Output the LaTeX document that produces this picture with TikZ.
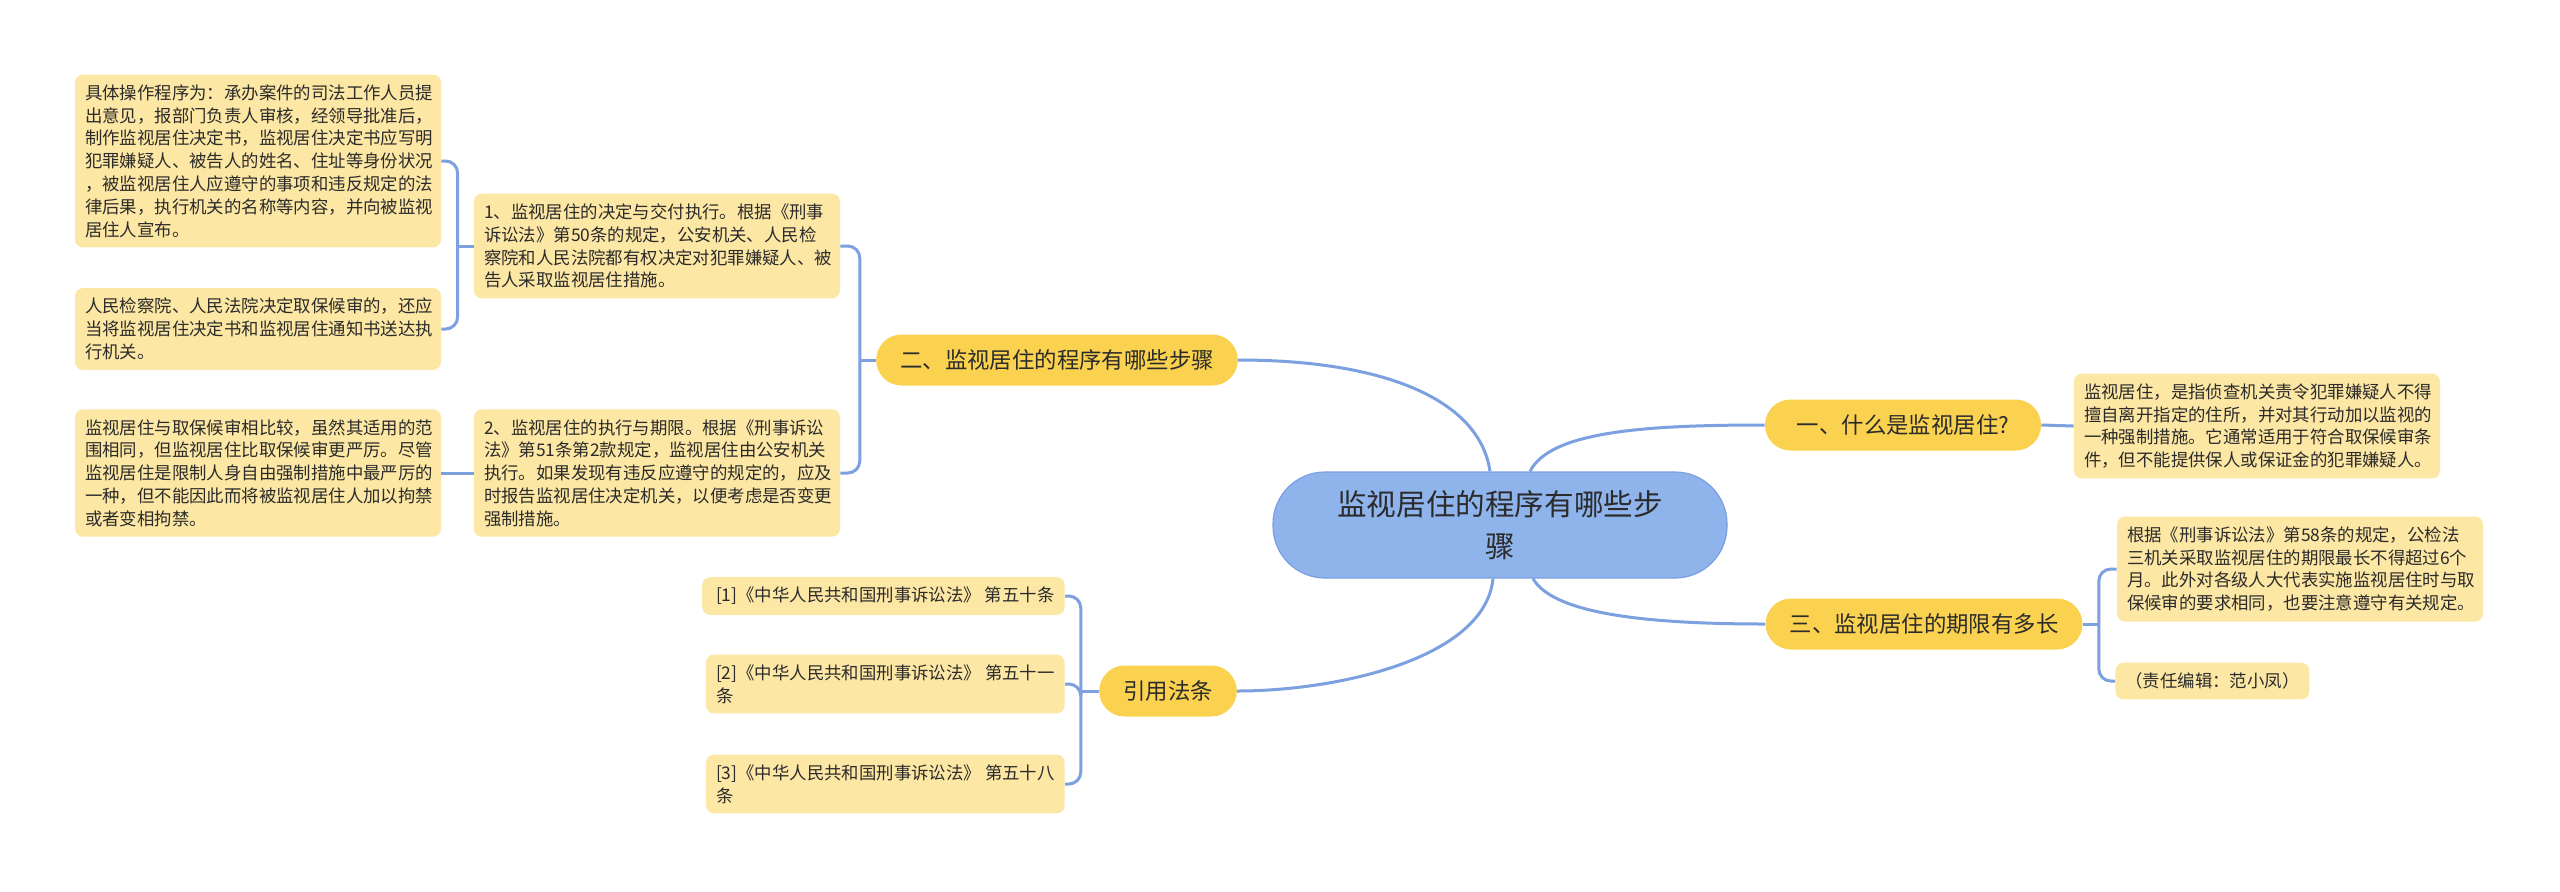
\documentclass[tikz,border=0pt]{standalone}
\usepackage{fontspec}
\setmainfont{Noto Sans CJK SC}
\definecolor{linkblue}{HTML}{7DA0E0}
\definecolor{rootfill}{HTML}{8FB3EB}
\definecolor{rootline}{HTML}{7A9FE2}
\definecolor{topicfill}{HTML}{FAD24F}
\definecolor{notefill}{HTML}{FDE7A4}
\definecolor{ink}{HTML}{2B2B2B}
\begin{document}
\begin{tikzpicture}[x=0.5pt,y=-0.5pt,
  root/.style={draw=rootline, line width=0.6pt, fill=rootfill, rounded corners=26pt, minimum width=227pt, minimum height=53pt, text width=168pt, align=center, text=ink, font=\fontsize{14.8pt}{21pt}\selectfont},
  topic/.style={fill=topicfill, rounded corners=12.7pt, minimum height=25.5pt, inner xsep=12pt, text=ink, font=\fontsize{11.2pt}{14pt}\selectfont},
  note/.style={fill=notefill, rounded corners=4pt, inner xsep=5pt, inner ysep=5pt, align=left, text=ink, font=\fontsize{8.7pt}{11.4pt}\selectfont},
  widenote/.style={note, text width=173pt},
  link/.style={draw=linkblue, line width=1.5pt}]
\useasboundingbox (0,0) rectangle (2560,891);
\fill[white] (0,0) rectangle (2560,891);
\node[root] at (1500,525) (root) {监视居住的程序有哪些步\\骤};
\node[topic, minimum width=138pt] at (1903,425) (what) {一、什么是监视居住?};
\node[topic] at (1057,360) (steps) {二、监视居住的程序有哪些步骤};
\node[topic] at (1924,624) (term) {三、监视居住的期限有多长};
\node[topic] at (1168,691) (cite) {引用法条};
\node[widenote] at (2257,426) (define) {监视居住，是指侦查机关责令犯罪嫌疑人不得\\擅自离开指定的住所，并对其行动加以监视的\\一种强制措施。它通常适用于符合取保候审条\\件，但不能提供保人或保证金的犯罪嫌疑人。};
\node[widenote] at (657,246) (decide) {1、监视居住的决定与交付执行。根据《刑事\\诉讼法》第50条的规定，公安机关、人民检\\察院和人民法院都有权决定对犯罪嫌疑人、被\\告人采取监视居住措施。};
\node[widenote] at (657,473) (enforce) {2、监视居住的执行与期限。根据《刑事诉讼\\法》第51条第2款规定，监视居住由公安机关\\执行。如果发现有违反应遵守的规定的，应及\\时报告监视居住决定机关，以便考虑是否变更\\强制措施。};
\node[widenote] at (258,161) (procedure) {具体操作程序为：承办案件的司法工作人员提\\出意见，报部门负责人审核，经领导批准后，\\制作监视居住决定书，监视居住决定书应写明\\犯罪嫌疑人、被告人的姓名、住址等身份状况\\，被监视居住人应遵守的事项和违反规定的法\\律后果，执行机关的名称等内容，并向被监视\\居住人宣布。};
\node[widenote] at (258,329) (deliver) {人民检察院、人民法院决定取保候审的，还应\\当将监视居住决定书和监视居住通知书送达执\\行机关。};
\node[widenote] at (258,473) (compare) {监视居住与取保候审相比较，虽然其适用的范\\围相同，但监视居住比取保候审更严厉。尽管\\监视居住是限制人身自由强制措施中最严厉的\\一种，但不能因此而将被监视居住人加以拘禁\\或者变相拘禁。};
\node[widenote] at (2300,569) (termlimit) {根据《刑事诉讼法》第58条的规定，公检法\\三机关采取监视居住的期限最长不得超过6个\\月。此外对各级人大代表实施监视居住时与取\\保候审的要求相同，也要注意遵守有关规定。};
\node[note, anchor=west] at (2115,681) (editor) {（责任编辑：范小凤）};
\node[note, anchor=east] at (1065,596) (art50) {\ [1]《中华人民共和国刑事诉讼法》 第五十条};
\node[note, anchor=east] at (1065,684) (art51) {[2]《中华人民共和国刑事诉讼法》 第五十一\\条};
\node[note, anchor=east] at (1065,784) (art58) {[3]《中华人民共和国刑事诉讼法》 第五十八\\条};
\draw[link] ([xshift=-5pt]root.north) .. controls +(-10,-70) and +(150,0) .. (steps.east);
\draw[link] ([xshift=15pt]root.north) .. controls +(20,-40) and +(-120,0) .. (what.west);
\draw[link] ([xshift=16.5pt]root.south) .. controls +(20,35) and +(-120,0) .. (term.west);
\draw[link] ([xshift=-3.5pt]root.south) .. controls +(-8,80) and +(100,0) .. (cite.east);
\draw[link] (what.east) -- (define.west);
\draw[link] (steps.west) -- ++(-16,0) coordinate (stepsj);
\draw[link, rounded corners=6pt] (stepsj) |- (decide.east);
\draw[link, rounded corners=6pt] (stepsj) |- (enforce.east);
\draw[link] (decide.west) -- ++(-16,0) coordinate (decidej);
\draw[link, rounded corners=6pt] (decidej) |- (procedure.east);
\draw[link, rounded corners=6pt] (decidej) |- (deliver.east);
\draw[link] (enforce.west) -- (compare.east);
\draw[link] (term.east) -- ++(16,0) coordinate (termj);
\draw[link, rounded corners=6pt] (termj) |- (termlimit.west);
\draw[link, rounded corners=6pt] (termj) |- (editor.west);
\draw[link] (cite.west) -- ++(-18,0) coordinate (citej);
\draw[link, rounded corners=6pt] (citej) |- (art50.east);
\draw[link, rounded corners=6pt] (citej) |- (art51.east);
\draw[link, rounded corners=6pt] (citej) |- (art58.east);
\end{tikzpicture}
\end{document}
